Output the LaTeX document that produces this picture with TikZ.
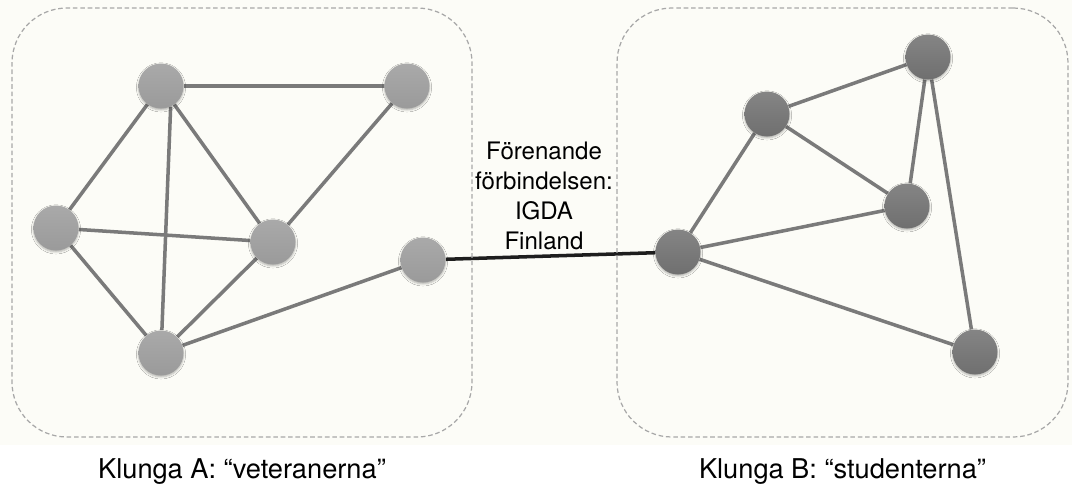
\documentclass[tikz,border=0pt]{standalone}
\usepackage{fontspec}
\setmainfont{TeX Gyre Heros}
\usetikzlibrary{positioning,backgrounds,shadows.blur}
\definecolor{cBg}{HTML}{FCFCF7}
\definecolor{cDash}{HTML}{A8A8A8}
\definecolor{cVet}{HTML}{9A9A9A}
\definecolor{cStu}{HTML}{6F6F6F}
\definecolor{cEdge}{HTML}{7A7A7A}
\definecolor{cBridge}{HTML}{1E1E1E}
\tikzset{
  clu/.style  = {rectangle, rounded corners=1.1cm, draw=cDash, dash pattern=on 2.6pt off 1.6pt,
                 line width=0.7pt, minimum width=#1, minimum height=8.58cm},
  dot/.style  = {circle, minimum size=0.9cm, inner sep=0pt,
                 top color=#1!85!white, bottom color=#1,
                 blur shadow={shadow xshift=0pt, shadow yshift=-0.8pt, shadow blur radius=1.2pt,
                              shadow opacity=30}},
  vet/.style  = {dot=cVet},
  stu/.style  = {dot=cStu},
  lnk/.style  = {draw=cEdge, line width=2pt},
  brg/.style  = {draw=cBridge, line width=2pt},
  mid/.style  = {align=center, inner sep=0pt, font=\fontsize{13.7}{17}\selectfont},
  ttl/.style  = {inner sep=0pt, font=\fontsize{15.5}{18}\selectfont},
}

\begin{document}
\begin{tikzpicture}
  \useasboundingbox (0,0) rectangle (21.44,-9.84);

  % the two clusters
  \node[clu=9.2cm] (cluA) at (4.84,-4.45) {};
  \node[clu=9.02cm] (cluB) at (16.85,-4.45) {};

  % veterans
  \node[vet] (a1) at (3.22,-1.72) {};
  \node[vet] (a2) at (8.14,-1.72) {};
  \node[vet] (a3) at (1.12,-4.56) {};
  \node[vet] (a4) at (5.46,-4.84) {};
  \node[vet] (a5) at (8.46,-5.20) {};
  \node[vet] (a6) at (3.22,-7.06) {};

  % students
  \node[stu] (b1) at (18.56,-1.14) {};
  \node[stu] (b2) at (15.34,-2.28) {};
  \node[stu] (b3) at (18.14,-4.12) {};
  \node[stu] (b4) at (13.56,-5.04) {};
  \node[stu] (b5) at (19.50,-7.04) {};

  \node[mid] (bro) at (10.88,-3.92) {Förenande\\förbindelsen:\\IGDA\\Finland};
  \node[ttl, below=0.42cm of cluA] (ttlA) {Klunga A: “veteranerna”};
  \node[ttl, below=0.42cm of cluB] (ttlB) {Klunga B: “studenterna”};

  \begin{scope}[on background layer]
    \fill[cBg] (0,0) rectangle (21.44,-8.9);
    \foreach \u/\v in {a1/a2,a1/a3,a1/a4,a2/a4,a3/a4,a3/a6,a4/a6,a6/a5}
      \draw[lnk] (\u) -- (\v);
    \draw[lnk] (a1.-65) -- (a6);
    \foreach \u/\v in {b1/b2,b1/b3,b1/b5,b2/b3,b2/b4,b4/b3,b4/b5}
      \draw[lnk] (\u) -- (\v);
    \draw[brg] (a5) -- (b4);
  \end{scope}
\end{tikzpicture}
\end{document}
